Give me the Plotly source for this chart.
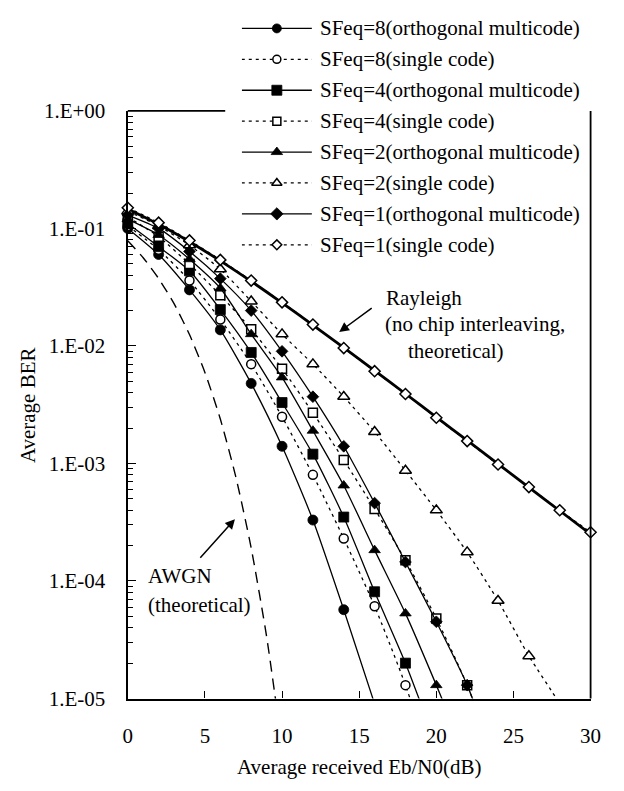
import plotly.graph_objects as go

# ---------------- data ----------------
snr = [0, 2, 4, 6, 8, 10, 12, 14, 16, 18, 20, 22, 24, 26, 28, 30]

sf8_multi = [0.100, 0.060, 0.030, 0.0137, 0.0048, 0.0014, 3.3e-4, 5.7e-5, 9.0e-6]
sf8_single = [0.105, 0.066, 0.036, 0.0168, 0.0070, 0.0025, 8.0e-4, 2.3e-4, 6.1e-5, 1.3e-5, 2.0e-6]
sf4_multi = [0.110, 0.070, 0.0436, 0.0204, 0.0088, 0.0033, 0.0012, 3.5e-4, 8.1e-5, 2.0e-5, 4.0e-6]
sf4_single = [0.125, 0.085, 0.0497, 0.027, 0.0139, 0.0064, 0.0027, 0.00107, 4.1e-4, 1.5e-4, 4.8e-5, 1.3e-5, 2.5e-6]
sf2_multi = [0.120, 0.088, 0.0547, 0.031, 0.0126, 0.0054, 0.0019, 6.5e-4, 1.83e-4, 5.3e-5, 1.3e-5, 3.0e-6]
sf2_single = [0.140, 0.105, 0.072, 0.045, 0.024, 0.0126, 0.0070, 0.0037, 0.00186, 8.7e-4, 4.0e-4,
              1.76e-4, 6.8e-5, 2.3e-5, 9.0e-6, 3.0e-6]
sf1_multi = [0.130, 0.100, 0.0637, 0.0374, 0.020, 0.0090, 0.0037, 0.0014, 4.6e-4, 1.45e-4, 4.5e-5, 1.3e-5, 2.5e-6]
sf1_single = [0.150, 0.112, 0.079, 0.054, 0.036, 0.0235, 0.0152, 0.0096, 0.0061, 0.0039, 0.00245,
              0.00155, 0.00098, 0.00063, 0.00040, 0.00026]

rayleigh = [0.1464, 0.1085, 0.0771, 0.0530, 0.0355, 0.0233, 0.01506, 0.00967, 0.00617, 0.00392,
            0.00248, 0.00157, 0.000992, 0.000627, 0.000396, 0.00025]

awgn_snr = [0, 1, 2, 3, 4, 5, 6, 7, 8, 9, 10]
awgn = [0.0786, 0.0563, 0.0375, 0.0229, 0.0125, 0.00595, 0.00239, 0.000773, 0.000191, 3.36e-5, 3.87e-6]

x_ticks = [0, 5, 10, 15, 20, 25, 30]
y_ticks = [1e0, 1e-1, 1e-2, 1e-3, 1e-4, 1e-5]
y_tick_text = ["1.E+00", "1.E-01", "1.E-02", "1.E-03", "1.E-04", "1.E-05"]

series_names = [
    "SFeq=8(orthogonal multicode)", "SFeq=8(single code)",
    "SFeq=4(orthogonal multicode)", "SFeq=4(single code)",
    "SFeq=2(orthogonal multicode)", "SFeq=2(single code)",
    "SFeq=1(orthogonal multicode)", "SFeq=1(single code)",
]
series_values = [sf8_multi, sf8_single, sf4_multi, sf4_single,
                 sf2_multi, sf2_single, sf1_multi, sf1_single]

# ---------------- styles ----------------
FONT = "Liberation Serif, Times New Roman, serif"
FS = 21
W, H = 624, 791
BLACK = "black"
DOT = "3px,4px"
styles = [
    dict(symbol="circle", filled=True, size=10, lsize=9, dash="solid"),
    dict(symbol="circle", filled=False, size=9, lsize=8, dash=DOT),
    dict(symbol="square", filled=True, size=10, lsize=10, dash="solid"),
    dict(symbol="square", filled=False, size=9, lsize=8, dash=DOT),
    dict(symbol="triangle-up", filled=True, size=10, lsize=10, dash="solid"),
    dict(symbol="triangle-up", filled=False, size=10.5, lsize=9, dash=DOT),
    dict(symbol="diamond", filled=True, size=9, lsize=9.5, dash="solid"),
    dict(symbol="diamond", filled=False, size=8.5, lsize=7.5, dash=DOT),
]

# plot area in pixels
PL, PR, PT, PB = 126, 601, 102, 708


def fx(px):
    return px / W


def fy(py):
    return 1 - py / H


fig = go.Figure()

# Rayleigh theoretical (thick)
fig.add_trace(go.Scatter(x=snr, y=rayleigh, mode="lines",
                         line=dict(color=BLACK, width=2.8, shape="spline", smoothing=0.6),
                         showlegend=False, hoverinfo="skip"))
# AWGN theoretical (dashed)
fig.add_trace(go.Scatter(x=awgn_snr, y=awgn, mode="lines",
                         line=dict(color=BLACK, width=1.4, dash="11px,7px", shape="spline", smoothing=0.6),
                         showlegend=False, hoverinfo="skip"))

for name, vals, st in zip(series_names, series_values, styles):
    xs = snr[:len(vals)]
    sizes = [st["size"] if v >= 1e-5 else 0 for v in vals]
    lws = [(0.8 if st["filled"] else 1.5) if v >= 1e-5 else 0 for v in vals]
    fig.add_trace(go.Scatter(
        x=xs, y=vals, mode="lines+markers", name=name, showlegend=False,
        line=dict(color=BLACK, width=1.3, dash=st["dash"], shape="spline", smoothing=0.6),
        marker=dict(symbol=st["symbol"], size=sizes, opacity=1,
                    color=BLACK if st["filled"] else "white",
                    line=dict(color=BLACK, width=lws)),
        cliponaxis=False,
    ))

# ---------------- manual legend (long line samples as in the reference) ----------------
for i, (name, st) in enumerate(zip(series_names, styles)):
    fig.add_trace(go.Scatter(x=[0, 1], y=[i, i], xaxis="x2", yaxis="y2", mode="lines",
                             line=dict(color=BLACK, width=1.3, dash=st["dash"]),
                             showlegend=False, hoverinfo="skip"))
    fig.add_trace(go.Scatter(x=[0.5], y=[i], xaxis="x2", yaxis="y2", mode="markers",
                             marker=dict(symbol=st["symbol"], size=st["lsize"],
                                         color=BLACK if st["filled"] else "white",
                                         line=dict(color=BLACK, width=0.8 if st["filled"] else 1.5)),
                             showlegend=False, hoverinfo="skip", cliponaxis=False))

annotations = []
for i, name in enumerate(series_names):
    annotations.append(dict(x=fx(321), xref="paper", y=i, yref="y2", text=name, showarrow=False,
                            xanchor="left", yanchor="middle", font=dict(family=FONT, size=FS, color=BLACK)))

# Rayleigh label and arrow
for txt, xpx, ypx in [("Rayleigh", 389, 295), ("(no chip interleaving,", 388, 322), ("theoretical)", 412, 350)]:
    annotations.append(dict(x=fx(xpx), xref="paper", y=fy(ypx), yref="paper", text=txt, showarrow=False,
                            xanchor="left", yanchor="middle", font=dict(family=FONT, size=FS, color=BLACK)))
annotations.append(dict(x=fx(343), xref="paper", y=fy(330), yref="paper", text="", showarrow=True,
                        ax=34, ay=-25, axref="pixel", ayref="pixel", arrowhead=2, arrowsize=1.3,
                        arrowwidth=1.5, arrowcolor=BLACK))
# AWGN label and arrow
for txt, xpx, ypx in [("AWGN", 145, 582), ("(theoretical)", 145, 612)]:
    annotations.append(dict(x=fx(xpx), xref="paper", y=fy(ypx), yref="paper", text=txt, showarrow=False,
                            xanchor="left", yanchor="middle", font=dict(family=FONT, size=FS, color=BLACK)))
annotations.append(dict(x=fx(236), xref="paper", y=fy(523), yref="paper", text="", showarrow=True,
                        ax=-36, ay=40, axref="pixel", ayref="pixel", arrowhead=2, arrowsize=1.3,
                        arrowwidth=1.5, arrowcolor=BLACK))
# axis titles
annotations.append(dict(x=fx(23), xref="paper", y=fy((PT + PB) / 2), yref="paper", text="Average BER",
                        showarrow=False, textangle=-90, xanchor="center", yanchor="middle",
                        font=dict(family=FONT, size=FS, color=BLACK)))
annotations.append(dict(x=fx((PL + PR) / 2), xref="paper", y=fy(779), yref="paper",
                        text="Average received Eb/N0(dB)", showarrow=False, xanchor="center", yanchor="middle",
                        font=dict(family=FONT, size=FS, color=BLACK)))

# minor ticks 2..9 per decade
minor_vals = [m * 10.0 ** e for e in range(-5, 0) for m in range(2, 10)]

shapes = [
    # right border
    dict(type="line", xref="paper", yref="paper", x0=fx(PR), x1=fx(PR), y0=fy(PB), y1=fy(PT),
         line=dict(color=BLACK, width=1.8)),
    # visible part of the top border (rest is hidden behind legend)
    dict(type="line", xref="paper", yref="paper", x0=fx(PL), x1=fx(226), y0=fy(PT), y1=fy(PT),
         line=dict(color=BLACK, width=1.8)),
]

fig.update_layout(
    width=W, height=H,
    margin=dict(l=0, r=0, t=0, b=0),
    paper_bgcolor="white", plot_bgcolor="white",
    showlegend=False,
    font=dict(family=FONT, size=FS, color=BLACK),
    xaxis=dict(domain=[fx(PL), fx(PR)], range=[0, 30], tickvals=x_ticks, ticks="inside", ticklen=7,
               tickwidth=1.3, tickcolor=BLACK, showline=True, linecolor=BLACK, linewidth=2.2,
               showgrid=False, zeroline=False, ticklabelstandoff=17,
               tickfont=dict(family=FONT, size=FS, color=BLACK)),
    yaxis=dict(domain=[fy(PB), fy(PT)], type="log", range=[-5, 0], tickvals=y_ticks, ticktext=y_tick_text,
               ticks="inside", ticklen=8, tickwidth=1.3, tickcolor=BLACK, showline=True, linecolor=BLACK,
               linewidth=2.4, showgrid=False, zeroline=False, ticklabelstandoff=16,
               minor=dict(tickvals=minor_vals, ticks="inside", ticklen=5, tickwidth=1.1, tickcolor=BLACK,
                          showgrid=False),
               tickfont=dict(family=FONT, size=FS, color=BLACK)),
    xaxis2=dict(domain=[fx(243), fx(315)], range=[0, 1], visible=False, anchor="y2"),
    yaxis2=dict(domain=[fy(256), fy(1)], range=[7.5, -0.5], visible=False, anchor="x2"),
    annotations=annotations,
    shapes=shapes,
)

fig.write_html("out.html")
